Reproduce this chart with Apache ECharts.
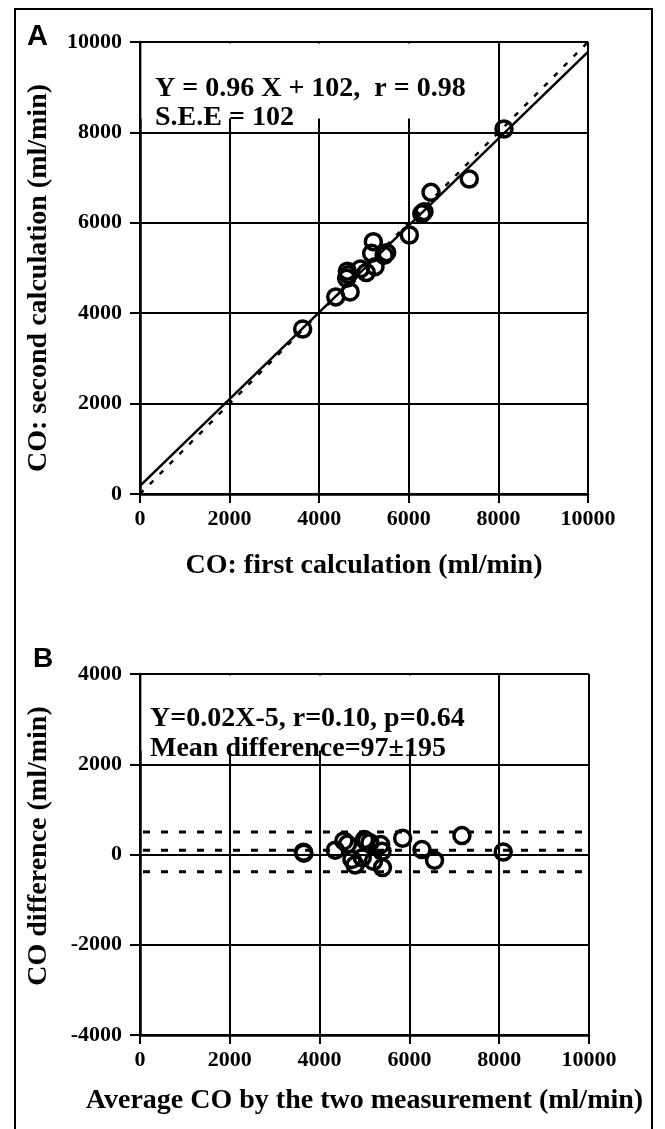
<!DOCTYPE html>
<html>
<head>
<meta charset="utf-8">
<script src="https://cdn.jsdelivr.net/npm/echarts@6/dist/echarts.min.js"></script>
<style>
html,body{margin:0;padding:0;background:#fff;}
#c{width:665px;height:1129px;}
</style>
</head>
<body>
<div id="c"></div>
<script>
// Panel A: first vs second calculation (ml/min)
const aFirst  = [3631, 4370, 4690, 4613, 4628, 4650, 4920, 5050, 5246, 5171, 5208, 5506, 5450, 6012, 6339, 6290, 6496, 7350, 8125];
const aSecond = [3650, 4360, 4470, 4771, 4930, 4850, 4980, 4900, 5030, 5325, 5582, 5340, 5280, 5730, 6246, 6200, 6674, 6969, 8075];
// regression and identity line end points
const aRegX = [0, 10000];
const aRegY = [180, 9780];
const aIdX = [0, 10000];
const aIdY = [0, 10000];
// Panel B: Bland-Altman
const bAvg  = [3640, 3650, 4350, 4540, 4620, 4720, 4790, 4950, 5040, 5000, 5120, 5360, 5390, 5200, 5400, 5850, 6280, 6560, 7170, 8090];
const bDiff = [50, 30, 95, 300, 230, -110, -230, -70, 300, 330, 260, 220, 70, -150, -290, 360, 110, -130, 420, 55];
const bLimits = [500, 95, -385];
// ticks
const aTicks = [0, 2000, 4000, 6000, 8000, 10000];
const bYTicks = [-4000, -2000, 0, 2000, 4000];

const SERIF = '"Liberation Serif", "Times New Roman", serif';
const pts = (xs, ys) => xs.map((x, i) => [x, ys[i]]);

const axisCommon = {
  axisLine: {show: true, onZero: false, lineStyle: {color: '#000', width: 2.5}},
  axisTick: {show: true, inside: false, length: 9, lineStyle: {color: '#000', width: 2}},
  splitLine: {show: true, lineStyle: {color: '#000', width: 2}},
  axisLabel: {color: '#000', fontFamily: SERIF, fontWeight: 'bold', fontSize: 22, formatter: v => String(v)}
};
const nameStyle = {color: '#000', fontFamily: SERIF, fontWeight: 'bold', fontSize: 28};
const circleStyle = {color: 'rgba(0,0,0,0)', borderColor: '#000', borderWidth: 3.5, opacity: 1};

const chart = echarts.init(document.getElementById('c'), null, {renderer: 'canvas'});
chart.setOption({
  backgroundColor: '#fff',
  animation: false,
  grid: [
    {left: 140, top: 42, width: 448, height: 452},
    {left: 140, top: 674, width: 449, height: 361}
  ],
  xAxis: [
    Object.assign({}, axisCommon, {gridIndex: 0, type: 'value', min: aTicks[0], max: aTicks[aTicks.length-1], interval: 2000,
      axisLabel: Object.assign({}, axisCommon.axisLabel, {margin: 14}),
      name: 'CO: first calculation (ml/min)', nameLocation: 'middle', nameGap: 58, nameTextStyle: nameStyle}),
    Object.assign({}, axisCommon, {gridIndex: 1, type: 'value', min: aTicks[0], max: aTicks[aTicks.length-1], interval: 2000,
      axisLabel: Object.assign({}, axisCommon.axisLabel, {margin: 14}),
      name: 'Average CO by the two measurement (ml/min)', nameLocation: 'middle', nameGap: 52, nameTextStyle: nameStyle})
  ],
  yAxis: [
    Object.assign({}, axisCommon, {gridIndex: 0, type: 'value', min: aTicks[0], max: aTicks[aTicks.length-1], interval: 2000,
      axisTick: Object.assign({}, axisCommon.axisTick, {length: 10}),
      axisLabel: Object.assign({}, axisCommon.axisLabel, {margin: 18})}),
    Object.assign({}, axisCommon, {gridIndex: 1, type: 'value', min: bYTicks[0], max: bYTicks[bYTicks.length-1], interval: 2000,
      axisTick: Object.assign({}, axisCommon.axisTick, {length: 10}),
      axisLabel: Object.assign({}, axisCommon.axisLabel, {margin: 18})})
  ],
  series: [
    {type: 'line', xAxisIndex: 0, yAxisIndex: 0, data: pts(aIdX, aIdY), symbol: 'none', silent: true,
      lineStyle: {color: '#000', width: 2.5, type: [5, 9]}, z: 3},
    {type: 'line', xAxisIndex: 0, yAxisIndex: 0, data: pts(aRegX, aRegY), symbol: 'none', silent: true,
      lineStyle: {color: '#000', width: 2.5}, z: 3},
    {type: 'scatter', xAxisIndex: 0, yAxisIndex: 0, data: pts(aFirst, aSecond), symbol: 'circle', symbolSize: 16,
      itemStyle: circleStyle, z: 4},
    ...bLimits.map(v => ({type: 'line', xAxisIndex: 1, yAxisIndex: 1, data: [[0, v], [10000, v]], symbol: 'none', silent: true,
      lineStyle: {color: '#000', width: 3, type: [7, 11], dashOffset: -3}, z: 3})),
    {type: 'scatter', xAxisIndex: 1, yAxisIndex: 1, data: pts(bAvg, bDiff), symbol: 'circle', symbolSize: 16,
      itemStyle: circleStyle, z: 4}
  ],
  graphic: [
    {type: 'rect', shape: {x: 15, y: 9, width: 637, height: 1135}, style: {fill: 'none', stroke: '#000', lineWidth: 2}, z: 1, silent: true},
    {type: 'rect', shape: {x: 141.5, y: 43.5, width: 355.5, height: 75}, style: {fill: '#fff'}, z: 50, silent: true},
    {type: 'rect', shape: {x: 141.5, y: 675.5, width: 355.5, height: 75}, style: {fill: '#fff'}, z: 50, silent: true},
    {type: 'text', x: 155, y: 75, z: 51, style: {text: 'Y = 0.96 X + 102,  r = 0.98', font: 'bold 28px ' + SERIF, fill: '#000', verticalAlign: 'alphabetic'}},
    {type: 'text', x: 155, y: 104, z: 51, style: {text: 'S.E.E = 102', font: 'bold 28px ' + SERIF, fill: '#000', verticalAlign: 'alphabetic'}},
    {type: 'text', x: 150, y: 705, z: 51, style: {text: 'Y=0.02X-5, r=0.10, p=0.64', font: 'bold 28px ' + SERIF, fill: '#000', verticalAlign: 'alphabetic'}},
    {type: 'text', x: 150, y: 735, z: 51, style: {text: 'Mean difference=97±195', font: 'bold 28px ' + SERIF, fill: '#000', verticalAlign: 'alphabetic'}},
    {type: 'text', x: 27, y: 22, z: 51, style: {text: 'A', font: 'bold 29px "Liberation Sans", Arial, sans-serif', fill: '#000'}},
    {type: 'text', x: 33, y: 645, z: 51, style: {text: 'B', font: 'bold 28px "Liberation Sans", Arial, sans-serif', fill: '#000'}},
    {type: 'text', x: 39, y: 278, rotation: Math.PI / 2, z: 51, style: {text: 'CO: second calculation (ml/min)', font: 'bold 28px ' + SERIF, fill: '#000', align: 'center', verticalAlign: 'middle'}},
    {type: 'text', x: 39, y: 846, rotation: Math.PI / 2, z: 51, style: {text: 'CO difference (ml/min)', font: 'bold 28px ' + SERIF, fill: '#000', align: 'center', verticalAlign: 'middle'}}
  ]
});
</script>
</body>
</html>
